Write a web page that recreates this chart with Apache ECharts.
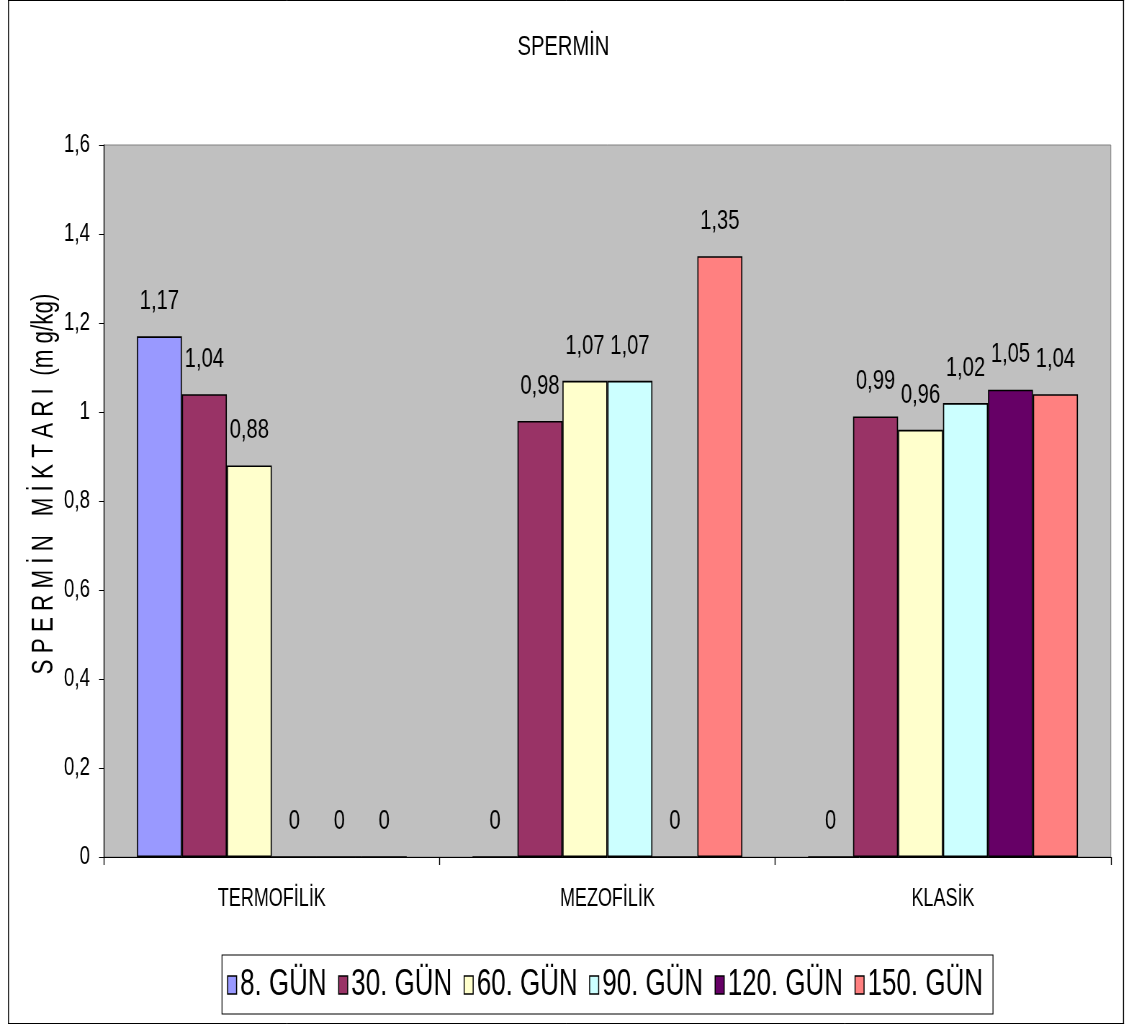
<!DOCTYPE html>
<html>
<head>
<meta charset="utf-8">
<script src="https://cdn.jsdelivr.net/npm/echarts@6/dist/echarts.min.js"></script>
<style>
  html, body { margin: 0; padding: 0; background: #ffffff; overflow: hidden; }
  #wrap { width: 1127px; height: 1026px; overflow: hidden; }
  #chart { height: 1026px; transform-origin: 0 0; }
</style>
</head>
<body>
<div id="wrap"><div id="chart"></div></div>
<script>
// Spermin content by ripening method and storage day
const categories = ['TERMOFİLİK', 'MEZOFİLİK', 'KLASİK'];
const seriesNames = ['8. GÜN', '30. GÜN', '60. GÜN', '90. GÜN', '120. GÜN', '150. GÜN'];
const gun8   = [1.17, 0,    0];
const gun30  = [1.04, 0.98, 0.99];
const gun60  = [0.88, 1.07, 0.96];
const gun90  = [0,    1.07, 1.02];
const gun120 = [0,    0,    1.05];
const gun150 = [0,    1.35, 1.04];
const seriesColors = ['#9999FF', '#993366', '#FFFFCC', '#CCFFFF', '#660066', '#FF8080'];

// The whole canvas is squeezed horizontally to get a narrow typeface look;
// horizontal page coordinates are converted into chart coordinates with X().
const S = 0.72;
const W = 1127, H = 1026;
const X = v => v / S;

const FONT = "'Liberation Sans', Arial, sans-serif";
const commaNum = v => String(Math.round(v * 100) / 100).replace('.', ',');

const allValues = [gun8, gun30, gun60, gun90, gun120, gun150];

const el = document.getElementById('chart');
el.style.width = X(W) + 'px';
el.style.transform = 'scaleX(' + S + ')';

const chart = echarts.init(el);
chart.setOption({
  backgroundColor: '#ffffff',
  animation: false,
  title: {
    text: 'SPERMİN',
    left: 'center',
    top: 28,
    textStyle: { fontFamily: FONT, fontSize: 28, fontWeight: 'normal', color: '#000' }
  },
  graphic: [
    // outer frame
    { type: 'line', silent: true, shape: { x1: X(8), y1: 0.5, x2: X(1124), y2: 0.5 }, style: { stroke: '#000', lineWidth: 1 } },
    { type: 'line', silent: true, shape: { x1: X(8), y1: 1023.5, x2: X(1124), y2: 1023.5 }, style: { stroke: '#000', lineWidth: 1 } },
    { type: 'line', silent: true, shape: { x1: X(8.5), y1: 0, x2: X(8.5), y2: 1024 }, style: { stroke: '#000', lineWidth: X(1) } },
    { type: 'line', silent: true, shape: { x1: X(1123.5), y1: 0, x2: X(1123.5), y2: 1024 }, style: { stroke: '#000', lineWidth: X(1) } },
    // value axis title, read bottom to top
    {
      type: 'text',
      silent: true,
      x: X(44),
      y: 484,
      rotation: Math.PI / 2,
      scaleX: 0.8,
      scaleY: 1.55,
      style: {
        text: 'S P E R M İ N   M İ K T A R I  (m g/kg)',
        font: '28px ' + FONT,
        fill: '#000',
        textAlign: 'center',
        textVerticalAlign: 'middle'
      }
    }
  ],
  grid: {
    left: X(104), right: X(16), top: 145, bottom: 169,
    show: true,
    backgroundColor: '#C0C0C0',
    borderColor: '#808080',
    borderWidth: 1
  },
  legend: {
    data: seriesNames.map(n => ({ name: n, icon: 'rect' })),
    left: X(222),
    top: 955,
    orient: 'horizontal',
    itemWidth: X(9),
    itemHeight: 18,
    itemGap: 16,
    padding: [12, 14, 11, 7],
    borderColor: '#000',
    borderWidth: 1.2,
    textStyle: { fontFamily: FONT, fontSize: 36, color: '#000', padding: [0, 0, 0, 0] },
    itemStyle: { borderColor: '#000', borderWidth: 1.5 }
  },
  xAxis: {
    type: 'category',
    data: categories,
    axisLine: { lineStyle: { color: '#000', width: 1 } },
    axisTick: { show: true, length: 8, lineStyle: { color: '#000', width: X(1) } },
    axisLabel: { fontFamily: FONT, fontSize: 25, color: '#000', margin: 30 },
    splitLine: { show: false }
  },
  yAxis: {
    type: 'value',
    min: 0,
    max: 1.6,
    interval: 0.2,
    axisLine: { show: true, lineStyle: { color: '#000', width: X(1) } },
    axisTick: { show: true, length: X(5), lineStyle: { color: '#000' } },
    axisLabel: { fontFamily: FONT, fontSize: 26, color: '#000', margin: X(14), formatter: v => commaNum(v) },
    splitLine: { show: false }
  },
  series: seriesNames.map((name, i) => ({
    name: name,
    type: 'bar',
    data: allValues[i],
    barGap: '0%',
    barCategoryGap: '19.6%',
    itemStyle: { color: seriesColors[i], borderColor: '#000', borderWidth: 1.6 },
    label: {
      show: true,
      position: 'top',
      distance: 21,
      fontFamily: FONT,
      fontSize: 28,
      color: '#000',
      formatter: p => commaNum(p.value)
    }
  }))
});
</script>
</body>
</html>
